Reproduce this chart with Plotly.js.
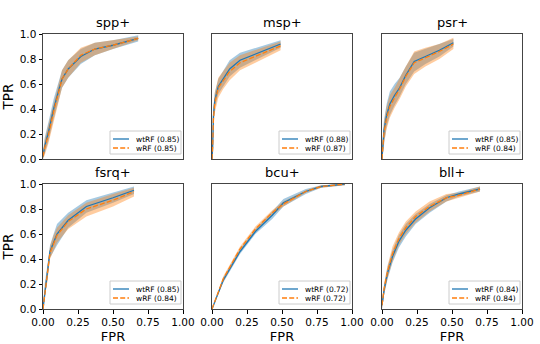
<!DOCTYPE html>
<html>
<head>
<meta charset="utf-8">
<script src="https://cdn.plot.ly/plotly-3.0.1.min.js"></script>
<style>html,body{margin:0;padding:0;background:#fff}#chart{width:540px;height:344px}</style>
</head>
<body>
<div id="chart"></div>
<script>
// ---- data ----
const panelTitles = ["spp+", "msp+", "psr+", "fsrq+", "bcu+", "bll+"];
const seriesNames = ["wtRF", "wRF"];
const aucWt = [0.85, 0.88, 0.85, 0.85, 0.72, 0.84];
const aucW  = [0.85, 0.87, 0.84, 0.84, 0.72, 0.84];

const spp_fpr  = [0, 0.012, 0.04, 0.076, 0.12, 0.136, 0.18, 0.27, 0.37, 0.5, 0.68];
const spp_wt   = [0.02, 0.1, 0.22, 0.4, 0.58, 0.64, 0.72, 0.82, 0.88, 0.91, 0.965];
const spp_wtLo = [0.0, 0.04, 0.15, 0.32, 0.51, 0.57, 0.65, 0.76, 0.83, 0.88, 0.94];
const spp_wtHi = [0.06, 0.17, 0.3, 0.48, 0.65, 0.71, 0.79, 0.88, 0.93, 0.95, 0.99];
const spp_w    = [0.02, 0.09, 0.2, 0.38, 0.57, 0.64, 0.72, 0.83, 0.88, 0.91, 0.965];
const spp_wLo  = [0.0, 0.03, 0.13, 0.3, 0.5, 0.57, 0.65, 0.77, 0.83, 0.88, 0.95];
const spp_wHi  = [0.05, 0.15, 0.28, 0.46, 0.64, 0.71, 0.79, 0.89, 0.93, 0.95, 0.98];

const msp_fpr  = [0, 0.005, 0.01, 0.02, 0.045, 0.08, 0.126, 0.2, 0.31, 0.49];
const msp_wt   = [0.0, 0.1, 0.34, 0.47, 0.58, 0.64, 0.72, 0.79, 0.84, 0.92];
const msp_wtLo = [0, 0.04, 0.27, 0.41, 0.52, 0.58, 0.66, 0.73, 0.79, 0.89];
const msp_wtHi = [0.02, 0.16, 0.41, 0.53, 0.64, 0.7, 0.79, 0.85, 0.89, 0.95];
const msp_w    = [0.0, 0.1, 0.32, 0.45, 0.57, 0.63, 0.7, 0.77, 0.82, 0.905];
const msp_wLo  = [0, 0.03, 0.24, 0.37, 0.49, 0.56, 0.63, 0.71, 0.77, 0.87];
const msp_wHi  = [0.02, 0.17, 0.4, 0.53, 0.65, 0.7, 0.77, 0.83, 0.87, 0.94];

const psr_fpr  = [0, 0.005, 0.014, 0.033, 0.056, 0.09, 0.126, 0.17, 0.23, 0.31, 0.41, 0.51];
const psr_wt   = [0.0, 0.1, 0.23, 0.35, 0.44, 0.51, 0.57, 0.67, 0.78, 0.82, 0.87, 0.93];
const psr_wtLo = [0, 0.04, 0.15, 0.26, 0.35, 0.43, 0.5, 0.6, 0.7, 0.76, 0.82, 0.9];
const psr_wtHi = [0.03, 0.17, 0.31, 0.44, 0.54, 0.6, 0.65, 0.74, 0.85, 0.88, 0.92, 0.96];
const psr_w    = [0.0, 0.09, 0.21, 0.33, 0.42, 0.49, 0.56, 0.66, 0.77, 0.81, 0.86, 0.92];
const psr_wLo  = [0, 0.03, 0.13, 0.24, 0.33, 0.41, 0.48, 0.58, 0.68, 0.74, 0.8, 0.88];
const psr_wHi  = [0.03, 0.16, 0.29, 0.42, 0.51, 0.57, 0.64, 0.74, 0.86, 0.89, 0.92, 0.97];

const fsrq_fpr  = [0, 0.005, 0.012, 0.03, 0.05, 0.076, 0.1, 0.18, 0.31, 0.5, 0.65];
const fsrq_wt   = [0.0, 0.05, 0.15, 0.28, 0.46, 0.53, 0.6, 0.71, 0.82, 0.89, 0.95];
const fsrq_wtLo = [0, 0.02, 0.1, 0.22, 0.41, 0.46, 0.51, 0.65, 0.77, 0.85, 0.92];
const fsrq_wtHi = [0.02, 0.09, 0.2, 0.34, 0.51, 0.6, 0.68, 0.77, 0.87, 0.93, 0.98];
const fsrq_w    = [0.0, 0.05, 0.14, 0.27, 0.45, 0.53, 0.59, 0.7, 0.8, 0.87, 0.94];
const fsrq_wLo  = [0, 0.02, 0.09, 0.21, 0.4, 0.47, 0.53, 0.64, 0.74, 0.82, 0.9];
const fsrq_wHi  = [0.02, 0.09, 0.19, 0.33, 0.5, 0.59, 0.65, 0.75, 0.85, 0.92, 0.97];

const bcu_fpr  = [0, 0.08, 0.2, 0.31, 0.43, 0.51, 0.67, 0.78, 0.95];
const bcu_wt   = [0, 0.23, 0.46, 0.62, 0.75, 0.85, 0.94, 0.98, 1.0];
const bcu_wtLo = [0, 0.21, 0.44, 0.6, 0.72, 0.82, 0.92, 0.97, 0.99];
const bcu_wtHi = [0, 0.25, 0.48, 0.64, 0.78, 0.88, 0.96, 0.99, 1.0];
const bcu_w    = [0, 0.24, 0.48, 0.64, 0.77, 0.84, 0.94, 0.98, 1.0];
const bcu_wLo  = [0, 0.22, 0.46, 0.62, 0.75, 0.82, 0.93, 0.97, 0.99];
const bcu_wHi  = [0, 0.26, 0.5, 0.66, 0.79, 0.86, 0.95, 0.99, 1.0];

const bll_fpr  = [0, 0.016, 0.04, 0.075, 0.12, 0.17, 0.24, 0.34, 0.46, 0.55, 0.7];
const bll_wt   = [0.03, 0.16, 0.29, 0.42, 0.54, 0.63, 0.72, 0.81, 0.89, 0.92, 0.96];
const bll_wtLo = [0, 0.12, 0.24, 0.37, 0.49, 0.58, 0.68, 0.77, 0.86, 0.9, 0.94];
const bll_wtHi = [0.06, 0.2, 0.34, 0.47, 0.59, 0.68, 0.76, 0.84, 0.91, 0.94, 0.98];
const bll_w    = [0.03, 0.17, 0.3, 0.44, 0.56, 0.65, 0.74, 0.82, 0.89, 0.91, 0.96];
const bll_wLo  = [0, 0.12, 0.25, 0.38, 0.51, 0.6, 0.69, 0.78, 0.86, 0.89, 0.94];
const bll_wHi  = [0.06, 0.21, 0.35, 0.5, 0.61, 0.7, 0.78, 0.86, 0.92, 0.93, 0.98];

const xTicks = [0, 0.25, 0.5, 0.75, 1.0];
const yTicks = [0, 0.2, 0.4, 0.6, 0.8, 1.0];

// ---- build ----
const panels = [
  {fpr: spp_fpr, wt: spp_wt, wtLo: spp_wtLo, wtHi: spp_wtHi, w: spp_w, wLo: spp_wLo, wHi: spp_wHi},
  {fpr: msp_fpr, wt: msp_wt, wtLo: msp_wtLo, wtHi: msp_wtHi, w: msp_w, wLo: msp_wLo, wHi: msp_wHi},
  {fpr: psr_fpr, wt: psr_wt, wtLo: psr_wtLo, wtHi: psr_wtHi, w: psr_w, wLo: psr_wLo, wHi: psr_wHi},
  {fpr: fsrq_fpr, wt: fsrq_wt, wtLo: fsrq_wtLo, wtHi: fsrq_wtHi, w: fsrq_w, wLo: fsrq_wLo, wHi: fsrq_wHi},
  {fpr: bcu_fpr, wt: bcu_wt, wtLo: bcu_wtLo, wtHi: bcu_wtHi, w: bcu_w, wLo: bcu_wLo, wHi: bcu_wHi},
  {fpr: bll_fpr, wt: bll_wt, wtLo: bll_wtLo, wtHi: bll_wtHi, w: bll_w, wLo: bll_wLo, wHi: bll_wHi}
];

const W = 540, H = 344;
const AW = 140, AH = 125;
const xDom = [[43/W, 183/W], [212/W, 352/W], [382/W, 522/W]];
const yDom = [[1 - 159/H, 1 - 34/H], [1 - 309/H, 1 - 184/H]];
const BLUE = '#1f77b4', ORANGE = '#ff7f0e';
const FONT = 'DejaVu Sans';
const DASH = '5px,2.2px';

const traces = [];
const layout = {
  width: W, height: H,
  margin: {l: 0, r: 0, t: 0, b: 0},
  paper_bgcolor: '#fff', plot_bgcolor: '#fff',
  font: {family: FONT, color: '#000'},
  annotations: [],
  shapes: [],
  showlegend: false
};

const fx = d => 1 - d / AW;   // d px left of axes right edge
const fy = d => d / AH;       // d px above axes bottom edge

panels.forEach((p, i) => {
  const row = Math.floor(i / 3), col = i % 3;
  const n = i + 1;
  const sfx = (n === 1 ? '' : String(n));
  const xa = 'x' + sfx, ya = 'y' + sfx;
  const revF = p.fpr.slice().reverse();
  traces.push({x: p.fpr.concat(revF), y: p.wtLo.concat(p.wtHi.slice().reverse()), xaxis: xa, yaxis: ya,
    type: 'scatter', mode: 'lines', fill: 'toself', fillcolor: 'rgba(31,119,180,0.4)',
    line: {width: 0}, hoverinfo: 'skip'});
  traces.push({x: p.fpr.concat(revF), y: p.wLo.concat(p.wHi.slice().reverse()), xaxis: xa, yaxis: ya,
    type: 'scatter', mode: 'lines', fill: 'toself', fillcolor: 'rgba(255,127,14,0.4)',
    line: {width: 0}, hoverinfo: 'skip'});
  traces.push({x: p.fpr, y: p.wt, xaxis: xa, yaxis: ya, type: 'scatter', mode: 'lines',
    line: {color: BLUE, width: 1.3}, name: seriesNames[0]});
  traces.push({x: p.fpr, y: p.w, xaxis: xa, yaxis: ya, type: 'scatter', mode: 'lines',
    line: {color: ORANGE, width: 1.3, dash: DASH}, name: seriesNames[1]});

  layout['xaxis' + sfx] = {
    domain: xDom[col], anchor: ya, range: [0, 1], fixedrange: true,
    showgrid: false, zeroline: false,
    showline: true, mirror: true, linecolor: '#444', linewidth: 1,
    tickvals: row === 1 ? xTicks : [], ticktext: row === 1 ? xTicks.map(v => v.toFixed(2)) : [],
    ticks: row === 1 ? 'outside' : '', ticklen: 3.5, tickcolor: '#000', tickwidth: 1,
    tickfont: {family: FONT, size: 10.5, color: '#000'},
    title: row === 1 ? {text: 'FPR', font: {family: FONT, size: 13, color: '#000'}, standoff: 5} : {text: ''}
  };
  layout['yaxis' + sfx] = {
    domain: yDom[row], anchor: xa, range: [0, 1], fixedrange: true,
    showgrid: false, zeroline: false,
    showline: true, mirror: true, linecolor: '#444', linewidth: 1,
    tickvals: col === 0 ? yTicks : [], ticktext: col === 0 ? yTicks.map(v => v.toFixed(1)) : [],
    ticks: col === 0 ? 'outside' : '', ticklen: 3.5, tickcolor: '#000', tickwidth: 1,
    tickfont: {family: FONT, size: 10.5, color: '#000'},
    title: col === 0 ? {text: 'TPR', font: {family: FONT, size: 13.5, color: '#000'}, standoff: 4} : {text: ''}
  };

  const xr = xa + ' domain', yr = ya + ' domain';
  layout.shapes.push({type: 'rect', xref: xr, yref: yr, x0: fx(73), x1: fx(2), y0: fy(5), y1: fy(28),
    line: {color: '#cccccc', width: 1}, fillcolor: 'rgba(255,255,255,0.8)', layer: 'above'});
  layout.shapes.push({type: 'line', xref: xr, yref: yr, x0: fx(70), x1: fx(54), y0: fy(20), y1: fy(20),
    line: {color: BLUE, width: 1.3}, layer: 'above'});
  layout.shapes.push({type: 'line', xref: xr, yref: yr, x0: fx(70), x1: fx(54), y0: fy(11), y1: fy(11),
    line: {color: ORANGE, width: 1.3, dash: DASH}, layer: 'above'});
  const labels = [seriesNames[0] + ' (' + aucWt[i].toFixed(2) + ')', seriesNames[1] + ' (' + aucW[i].toFixed(2) + ')'];
  [20, 11].forEach((dy, k) => {
    layout.annotations.push({text: labels[k], xref: xr, yref: yr, x: fx(49), y: fy(dy),
      xanchor: 'left', yanchor: 'middle', showarrow: false,
      font: {family: FONT, size: 7.5, color: '#000'}});
  });

  layout.annotations.push({
    text: panelTitles[i], xref: 'paper', yref: 'paper',
    x: (xDom[col][0] + xDom[col][1]) / 2, y: yDom[row][1] + 2/H,
    xanchor: 'center', yanchor: 'bottom', showarrow: false,
    font: {family: FONT, size: 13, color: '#000'}
  });
});

Plotly.newPlot('chart', traces, layout, {displayModeBar: false, staticPlot: true});
</script>
</body>
</html>
